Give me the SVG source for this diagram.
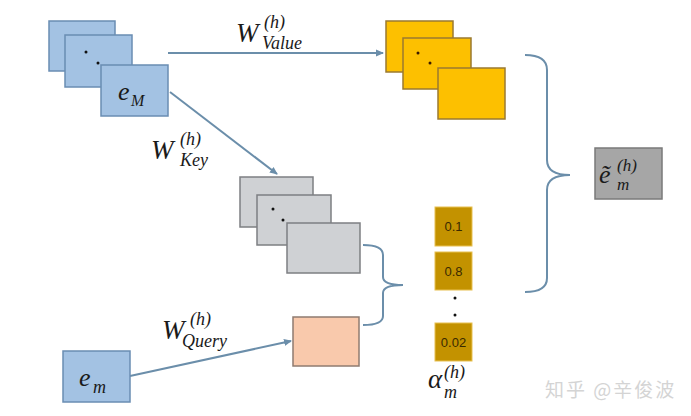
<svg xmlns="http://www.w3.org/2000/svg" width="691" height="416" viewBox="0 0 691 416">
<defs>
<marker id="arr" markerWidth="8" markerHeight="8" refX="7" refY="4" orient="auto" markerUnits="userSpaceOnUse">
<path d="M0,0.5 L8,4 L0,7.5 Z" fill="#6b8eaa"/>
</marker>
</defs>
<style>
.blue{fill:#a3c2e3;stroke:#6a8db3;stroke-width:1.5}
.yel{fill:#fdc000;stroke:#9a7a30;stroke-width:1.5}
.gray{fill:#cfd1d4;stroke:#7d7f82;stroke-width:1.5}
.peach{fill:#f9c9ac;stroke:#8f7b70;stroke-width:1.5}
.gold{fill:#c39200;stroke:#e8c050;stroke-width:1}
.out{fill:#a6a6a6;stroke:#7a7a7a;stroke-width:1.5}
.conn{fill:none;stroke:#6b8eaa;stroke-width:2}
.m{font-family:"Liberation Serif","DejaVu Serif",serif;font-style:italic;fill:#1a1a1a}
.num{font-family:"Liberation Sans",Arial,sans-serif;font-size:13px;fill:#3a2a00}
.dot{fill:#111}
</style>
<rect width="691" height="416" fill="#ffffff"/>
<g id="connectors">
<path class="conn" d="M168,53 L383,53" marker-end="url(#arr)"/>
<path class="conn" d="M170,92 L277,174" marker-end="url(#arr)"/>
<path class="conn" d="M130,376 L291,341" marker-end="url(#arr)"/>
<path class="conn" d="M525,55 Q547,55 547,70 V160 Q547,175 570,175 Q547,175 547,190 V278 Q547,292 525,292"/>
<path class="conn" d="M363,245 Q383,245 383,255 V277 Q383,285 403,285 Q383,285 383,293 V316 Q383,325 363,325"/>
</g>
<g id="label-value">
<text class="m" x="236" y="42" font-size="27">W</text>
<text class="m" x="264" y="28" font-size="18">(h)</text>
<text class="m" x="262" y="49" font-size="18">Value</text>
</g>
<g id="label-key">
<text class="m" x="151" y="159" font-size="27">W</text>
<text class="m" x="180" y="145" font-size="18">(h)</text>
<text class="m" x="180" y="166" font-size="18">Key</text>
</g>
<g id="label-query">
<text class="m" x="162" y="339" font-size="27">W</text>
<text class="m" x="190" y="325" font-size="18">(h)</text>
<text class="m" x="182" y="347" font-size="18">Query</text>
</g>
<g id="eM-stack">
<rect class="blue" x="49" y="21" width="66" height="50"/>
<rect class="blue" x="65" y="35" width="67" height="52"/>
<circle class="dot" cx="86" cy="52" r="1.5"/>
<circle class="dot" cx="98" cy="63" r="1.5"/>
<rect class="blue" x="101" y="65" width="67" height="51"/>
<text class="m" x="118" y="100" font-size="26">e</text>
<text class="m" x="131" y="106" font-size="16">M</text>
</g>
<g id="value-stack">
<rect class="yel" x="386" y="21" width="67" height="51"/>
<rect class="yel" x="403" y="38" width="68" height="51"/>
<circle cx="418" cy="53" r="1.5" fill="#3a1a00"/>
<circle cx="430" cy="63" r="1.5" fill="#3a1a00"/>
<rect class="yel" x="438" y="68" width="67" height="51"/>
</g>
<g id="key-stack">
<rect class="gray" x="240" y="177" width="73" height="50"/>
<rect class="gray" x="257" y="195" width="74" height="50"/>
<circle class="dot" cx="273" cy="209" r="1.5"/>
<circle class="dot" cx="283" cy="220" r="1.5"/>
<rect class="gray" x="287" y="223" width="73" height="50"/>
</g>
<g id="query">
<rect class="peach" x="293" y="317" width="66" height="49"/>
</g>
<g id="em">
<rect class="blue" x="63" y="351" width="67" height="51"/>
<text class="m" x="79" y="386" font-size="26">e</text>
<text class="m" x="93" y="393" font-size="18">m</text>
</g>
<g id="alpha">
<rect class="gold" x="435" y="207" width="37" height="39"/>
<text class="num" x="453.5" y="231" text-anchor="middle">0.1</text>
<rect class="gold" x="435" y="252" width="37" height="38"/>
<text class="num" x="453.5" y="276" text-anchor="middle">0.8</text>
<circle class="dot" cx="455" cy="298" r="1.5"/>
<circle class="dot" cx="455" cy="315" r="1.5"/>
<rect class="gold" x="435" y="323" width="37" height="38"/>
<text class="num" x="453.5" y="347" text-anchor="middle">0.02</text>
<text class="m" x="428" y="388" font-size="27">α</text>
<text class="m" x="444" y="378" font-size="18">(h)</text>
<text class="m" x="444" y="398" font-size="18">m</text>
</g>
<g id="output">
<rect class="out" x="595" y="148" width="67" height="51"/>
<text class="m" x="599" y="183" font-size="26">ẽ</text>
<text class="m" x="617" y="171" font-size="17">(h)</text>
<text class="m" x="617" y="190" font-size="17">m</text>
</g>
<g id="watermark">
<text x="545" y="397" font-family="'Noto Sans CJK SC',sans-serif" font-size="19" letter-spacing="2" fill="#d4d4d4">知乎 @辛俊波</text>
</g>
</svg>
